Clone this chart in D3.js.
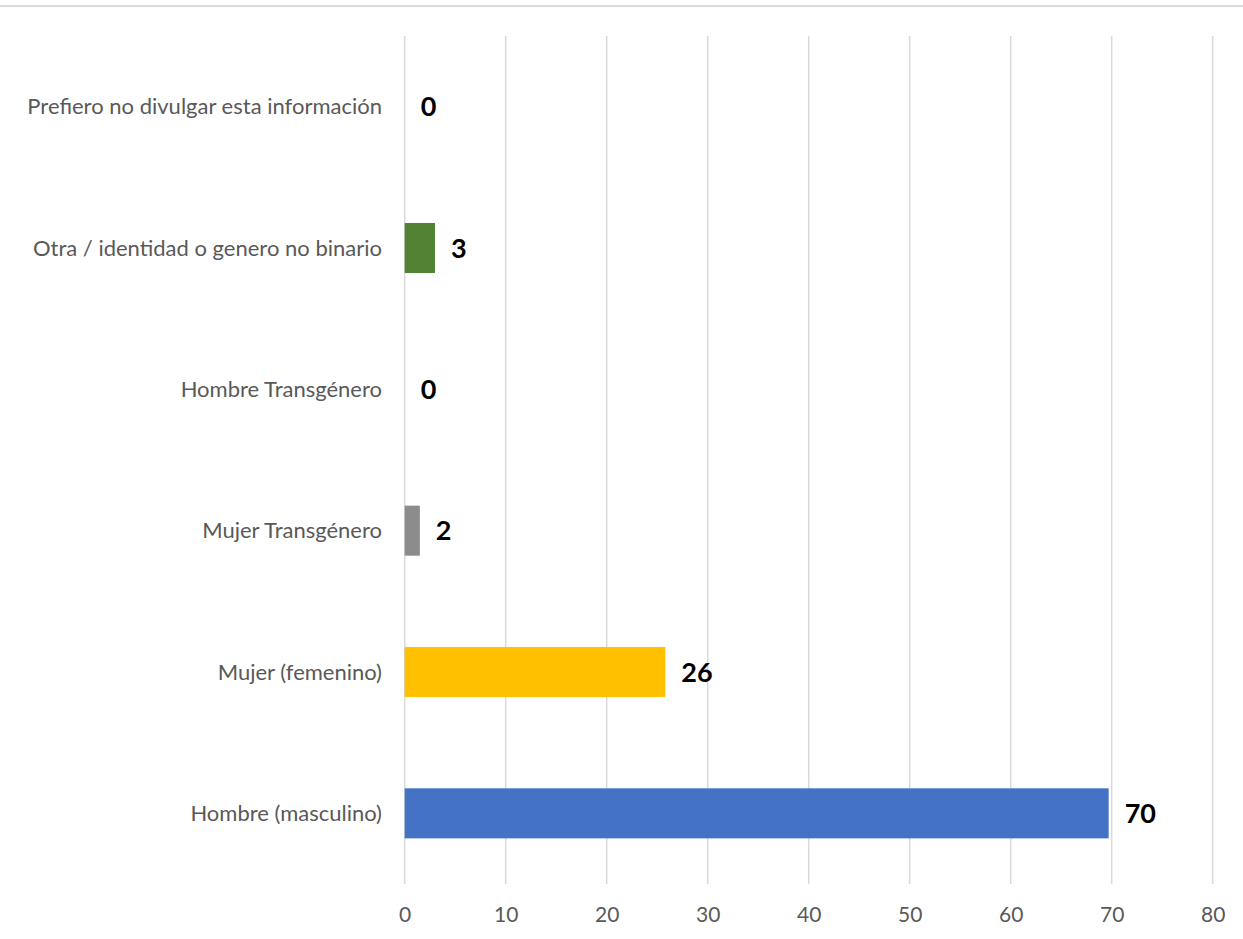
<!DOCTYPE html>
<html>
<head>
<meta charset="utf-8">
<script src="https://cdn.jsdelivr.net/npm/d3@7"></script>
<style>
  html, body { margin: 0; padding: 0; background: #fff; }
  svg { display: block; }
</style>
</head>
<body>
<svg id="chart" width="1243" height="939"></svg>
<script>
const categories = [
  "Prefiero no divulgar esta información",
  "Otra / identidad o genero no binario",
  "Hombre Transgénero",
  "Mujer Transgénero",
  "Mujer (femenino)",
  "Hombre (masculino)"
];
const values = [0, 3.0, 0, 1.5, 25.8, 69.7];
const barColors = ["#A5A5A5", "#548235", "#A5A5A5", "#8C8C8C", "#FFC000", "#4472C4"];
const tickValues = [0, 10, 20, 30, 40, 50, 60, 70, 80];

const svg = d3.select("#chart");
const W = 1243, H = 939;
const fontFam = "Lato, 'Open Sans', sans-serif";

// top rule
svg.append("line")
  .attr("x1", 0).attr("x2", W).attr("y1", 6).attr("y2", 6)
  .attr("stroke", "#d9d9d9").attr("stroke-width", 2);

const x = d3.scaleLinear().domain([0, 80]).range([404.7, 1212.7]);
const y = d3.scaleBand().domain(categories).range([36, 884])
  .paddingInner(0.646).paddingOuter(0.323);

// gridlines
svg.append("g").selectAll("line").data(tickValues).join("line")
  .attr("x1", d => x(d)).attr("x2", d => x(d))
  .attr("y1", 36).attr("y2", 884)
  .attr("stroke", "#d9d9d9").attr("stroke-width", 1.5);

// x axis tick labels
const xAxis = d3.axisBottom(x).tickValues(tickValues).tickSize(0).tickPadding(0);
const gx = svg.append("g").attr("transform", "translate(0,884)").call(xAxis);
gx.select(".domain").remove();
gx.selectAll("text")
  .attr("y", 38).attr("dy", 0)
  .attr("fill", "#595959")
  .style("font-family", fontFam).style("font-size", "21px");

// y axis labels
const yAxis = d3.axisLeft(y).tickSize(0).tickPadding(0);
const gy = svg.append("g").attr("transform", "translate(382,0)").call(yAxis);
gy.select(".domain").remove();
gy.selectAll("text")
  .attr("fill", "#595959")
  .attr("dy", "0.35em")
  .style("font-family", fontFam).style("font-size", "22px");

const data = categories.map((c, i) => ({ c, v: values[i], col: barColors[i] }));

// bars
svg.append("g").selectAll("rect").data(data.filter(d => d.v > 0)).join("rect")
  .attr("x", x(0))
  .attr("y", d => y(d.c))
  .attr("width", d => x(d.v) - x(0))
  .attr("height", y.bandwidth())
  .attr("fill", d => d.col);

// value labels
svg.append("g").selectAll("text").data(data).join("text")
  .attr("x", d => x(d.v) + 16)
  .attr("y", d => y(d.c) + y.bandwidth() / 2)
  .attr("dy", "0.36em")
  .attr("fill", "#000")
  .style("font-family", fontFam).style("font-size", "27px").style("font-weight", "bold")
  .text(d => Math.round(d.v));
</script>
</body>
</html>
